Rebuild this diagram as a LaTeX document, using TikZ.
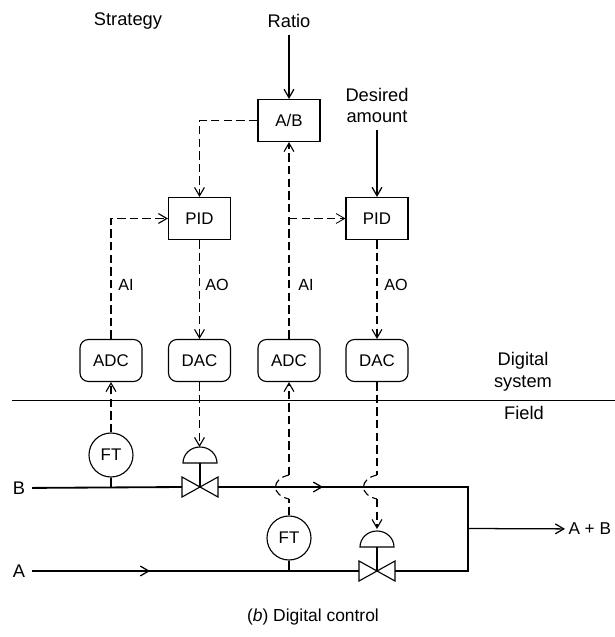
\documentclass[tikz,border=0pt]{standalone}
\usepackage{fontspec}
\setmainfont{Liberation Sans}
\usetikzlibrary{arrows.meta}
\tikzset{
  sharpbox/.style={draw,line width=0.8pt,minimum width=1.55cm,minimum height=1.05cm,inner sep=0pt},
  roundbox/.style={sharpbox,rounded corners=6pt},
  ftbubble/.style={draw,circle,line width=0.8pt,minimum size=1.1cm,inner sep=0pt},
  signal/.style={->,line width=0.8pt,dash pattern=on 6pt off 3pt},
  setpoint/.style={->,line width=0.9pt},
  pipe/.style={line width=1.3pt},
  jump/.style={line width=0.8pt,dash pattern=on 5pt off 3pt},
  label/.style={inner sep=0pt,align=center,font=\fontsize{11.5}{15}\selectfont},
  bigtag/.style={inner sep=0pt,outer sep=5pt,align=center,font=\fontsize{13}{15.5}\selectfont}
}
\begin{document}
\begin{tikzpicture}[x=0.025cm,y=-0.025cm,>={Straight Barb[length=6pt,width=7pt]},font=\fontsize{12}{15}\selectfont]
\useasboundingbox (0,0) rectangle (615,637);
\node[bigtag] (strategy) at (128,21) {Strategy};
\node[bigtag] (ratio) at (289,21) {Ratio};
\node[bigtag] (desired) at (377,105.5) {Desired\\amount};
\node[sharpbox] (ab) at (289,120.5) {A/B};
\node[sharpbox] (pida) at (199.5,218.5) {PID};
\node[sharpbox] (pidb) at (377,218.5) {PID};
\node[roundbox] (adca) at (111,360.5) {ADC};
\node[roundbox] (daca) at (199.5,360.5) {DAC};
\node[roundbox] (adcb) at (289,360.5) {ADC};
\node[roundbox] (dacb) at (377,360.5) {DAC};
\node[ftbubble] (fta) at (111,455) {FT};
\node[ftbubble] (ftb) at (289,538) {FT};
\node[label] (ai1) at (126,285) {AI};
\node[label] (ao1) at (217,285) {AO};
\node[label] (ai2) at (306,285) {AI};
\node[label] (ao2) at (396,285) {AO};
\node[bigtag] (digital) at (523,372) {Digital\\system};
\node[bigtag] (field) at (524,413) {Field};
\node[bigtag] (nameb) at (19,488) {B};
\node[bigtag] (namea) at (19,571) {A};
\node[bigtag,anchor=west,outer sep=2.5pt,font=\fontsize{12.2}{15}\selectfont] (sum) at (565,529) {A + B};
\node[label,font=\fontsize{12.4}{15}\selectfont] (caption) at (313,617) {(\textit{b}) Digital control};

\coordinate (split) at (289,218.5);
\coordinate (acta) at (199.5,447);
\coordinate (actb) at (377,529);
\coordinate (gapa) at (289,475);
\coordinate (gapb) at (289,499);
\coordinate (gapc) at (377,475);
\coordinate (gapd) at (377,499);
\coordinate (pipeb) at (468,487);
\coordinate (pipea) at (468,571);
\coordinate (outlet) at (468,528.5);
\coordinate (flowb) at (323,487);
\coordinate (flowa) at (150,571);

\draw[line width=0.6pt] (12,400) -- (615,400);

\draw[setpoint] (ratio) -- (ab);
\draw[setpoint] (desired) -- (pidb);
\draw[signal] (ab) -| (pida);
\draw[signal] (adca) |- (pida);
\draw[signal] (pida) -- (daca);
\draw[signal] (adcb) -- (ab);
\draw[signal,line width=0.6pt] (split) -- (pidb);
\draw[signal] (pidb) -- (dacb);
\draw[signal] (fta) -- (adca);
\draw[signal,-] (ftb) -- (gapb);
\draw[signal] (gapa) -- (adcb);
\draw[signal] (daca) -- (acta);
\draw[signal,-] (dacb) -- (gapc);
\draw[signal] (gapd) -- (actb);
\draw[jump] (gapa) .. controls (271,479) and (271,495) .. (gapb);
\draw[jump] (gapc) .. controls (359,479) and (359,495) .. (gapd);

\draw[pipe] (nameb) -- (182,487);
\draw[pipe] (218,487) -- (pipeb) -- (pipea) -- (395,571);
\draw[pipe] (namea) -- (359,571);
\draw[->,line width=0.9pt] (275,487) -- (flowb);
\draw[->,line width=0.9pt] (60,571) -- (flowa);
\draw[setpoint] (outlet) -- (sum);
\draw[pipe] (fta) -- (fta|-pipeb);
\draw[pipe] (ftb) -- (ftb|-pipea);

\foreach \x/\y in {200/487,377/571} {
  \draw[line width=0.8pt] (\x-18,\y-10) -- (\x+18,\y+10) -- (\x+18,\y-10) -- (\x-18,\y+10) -- cycle;
  \draw[line width=0.8pt] (\x,\y) -- (\x,\y-24);
  \draw[line width=0.8pt] (\x-17,\y-24) arc (180:360:17 and 16) -- cycle;
}
\end{tikzpicture}
\end{document}
